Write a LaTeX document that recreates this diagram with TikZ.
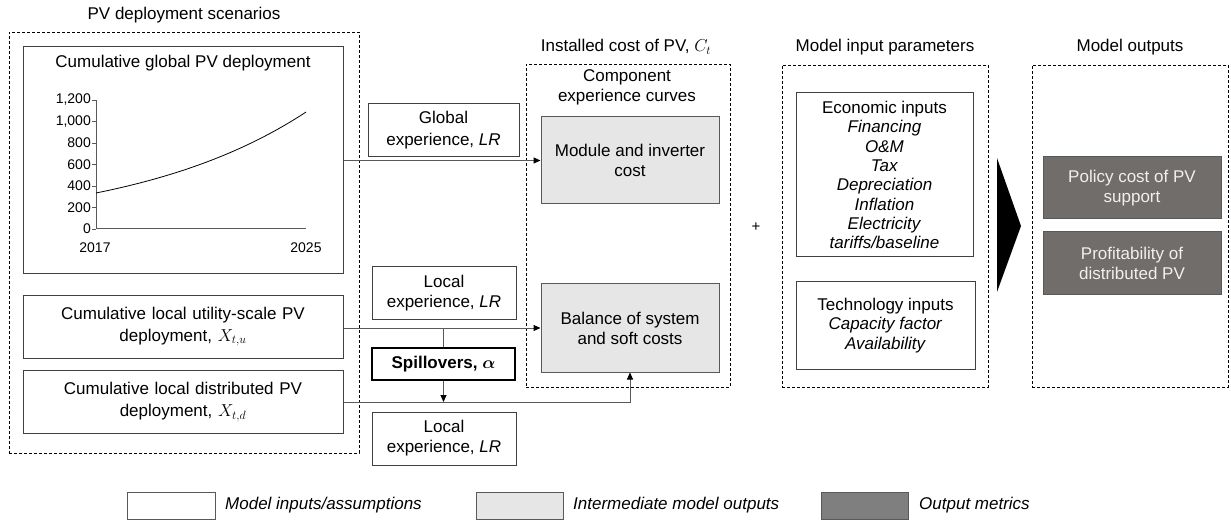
\documentclass[tikz,border=0pt]{standalone}
\usepackage{bm}
\usepackage{fontspec}
\setmainfont{Liberation Sans}
\usetikzlibrary{arrows.meta}
\definecolor{bd}{HTML}{404040}
\definecolor{lineg}{HTML}{595959}
\definecolor{lightg}{HTML}{E6E6E6}
\definecolor{darkg}{HTML}{716D6B}
\definecolor{legdark}{HTML}{7F7F7F}
\begin{document}
\begin{tikzpicture}[x=1pt,y=-1pt,
  font=\fontsize{17}{20}\selectfont,
  box/.style={draw=bd, line width=1pt, fill=white, inner sep=0pt, align=center},
  lbox/.style={box, fill=lightg, draw=lineg},
  dbox/.style={box, fill=darkg, draw=lineg, text=white!94!black},
  grp/.style={draw=black, dash pattern=on 3pt off 2pt, line width=0.8pt, inner sep=0pt},
  conn/.style={draw=lineg, line width=1pt, -{Triangle[length=7pt,width=6pt,color=black]}},
  plain/.style={draw=lineg, line width=1pt},
  tick/.style={font=\fontsize{14}{16}\selectfont, anchor=east, inner sep=0pt},
  ttl/.style={inner sep=0pt, align=center}]
\useasboundingbox (0,0) rectangle (1231,521);
% group boxes
\node[grp, minimum width=350, minimum height=421] (scen) at (184,242.5) {};
\node[ttl] (scenT) at (184,15) {PV deployment scenarios};
\node[grp, minimum width=204, minimum height=323] (inst) at (628,225.5) {};
\node[ttl] (instT) at (626,47) {Installed cost of PV, $C_t$};
\node[grp, minimum width=206, minimum height=322] (par) at (885,226) {};
\node[ttl] (parT) at (885,47) {Model input parameters};
\node[grp, minimum width=196, minimum height=322] (outb) at (1130,226) {};
\node[ttl] (outT) at (1130,47) {Model outputs};
% chart
\node[box, minimum width=320, minimum height=227] (chart) at (183,160.5) {};
\node[ttl] (chartT) at (183,63) {Cumulative global PV deployment};
\draw[lineg, line width=1pt] (96,100) -- (96,229) -- (306,229);
\foreach \yy in {100,121.5,143,164.5,186,207.5,229} \draw[lineg, line width=0.8pt] (92,\yy) -- (96,\yy);
\node[tick] (t0) at (91,229) {0};
\node[tick] (t2) at (91,207.5) {200};
\node[tick] (t4) at (91,186) {400};
\node[tick] (t6) at (91,164.5) {600};
\node[tick] (t8) at (91,143) {800};
\node[tick] (t10) at (91,121.5) {1,000};
\node[tick] (t12) at (91,100) {1,200};
\node[tick, anchor=center] (y17) at (95,248) {2017};
\node[tick, anchor=center] (y25) at (306,248) {2025};
\draw[black, line width=0.8pt] plot[domain=0:8, samples=50, smooth] ({96+26.25*\x},{229-36*exp(0.1473*\x)});
% left boxes
\node[box, minimum width=320, minimum height=63, text width=300] (util) at (183,326.5)
  {Cumulative local utility-scale PV\\[2pt] deployment, $X_{t,u}$};
\node[box, minimum width=320, minimum height=63, text width=300] (dist) at (183,402)
  {Cumulative local distributed PV\\[2pt] deployment, $X_{t,d}$};
% experience boxes
\node[box, minimum width=151, minimum height=53] (glob) at (443.5,130.5) {Global\\[2pt] experience, \textit{LR}};
\node[box, minimum width=144, minimum height=52] (loc1) at (444,293) {Local\\ experience, \textit{LR}};
\node[box, draw=black, line width=1.8pt, minimum width=143, minimum height=32, font=\fontsize{17}{20}\selectfont\bfseries] (spill) at (443.5,364) {Spillovers, $\bm{\alpha}$};
\node[box, minimum width=144, minimum height=53] (loc2) at (444,438.5) {Local\\ experience, \textit{LR}};
% installed cost
\node[ttl] (comp) at (627,87) {Component\\ experience curves};
\node[lbox, minimum width=178, minimum height=87] (mod) at (630,160.5) {Module and inverter\\ cost};
\node[lbox, minimum width=178, minimum height=88] (bos) at (630,328) {Balance of system\\ and soft costs};
\node[ttl, font=\fontsize{15}{17}\selectfont] (plus) at (756,227) {+};
% inputs
\node[box, minimum width=177, minimum height=164, font=\fontsize{17}{19.3}\selectfont] (econ) at (884.5,175)
  {Economic inputs\\ \textit{Financing}\\ \textit{O\&M}\\ \textit{Tax}\\ \textit{Depreciation}\\ \textit{Inflation}\\ \textit{Electricity}\\ \textit{tariffs/baseline}};
\node[box, minimum width=179, minimum height=87, font=\fontsize{17}{19.3}\selectfont] (tech) at (885.5,325.5)
  {Technology inputs\\ \textit{Capacity factor}\\ \textit{Availability}};
% big arrow
\fill[black] (997,158) -- (1021,226) -- (997,292) -- cycle;
% outputs
\node[dbox, minimum width=178, minimum height=62] (pol) at (1132,188) {Policy cost of PV\\ support};
\node[dbox, minimum width=178, minimum height=62] (prof) at (1132,263) {Profitability of\\ distributed PV};
% connectors
\draw[conn] (chart.east) -- (mod.west);
\coordinate (ju) at (util.east |- bos.west);
\draw[conn] (ju) -- (bos.west);
\draw[plain] (spill.north |- bos.west) -- (spill.north);
\draw[conn] (spill.south) -- (spill.south |- dist.east);
\draw[conn] (dist.east) -| (bos.south);
% legend
\node[box, draw=lineg, minimum width=88, minimum height=27] (lg1) at (171,505.5) {};
\node[anchor=west, inner sep=0pt] (lt1) at (225,505) {\textit{Model inputs/assumptions}};
\node[lbox, minimum width=87, minimum height=27] (lg2) at (519.5,505.5) {};
\node[anchor=west, inner sep=0pt] (lt2) at (573,505) {\textit{Intermediate model outputs}};
\node[box, fill=legdark, draw=lineg, minimum width=87, minimum height=27] (lg3) at (864.5,505.5) {};
\node[anchor=west, inner sep=0pt] (lt3) at (919,505) {\textit{Output metrics}};
\end{tikzpicture}
\end{document}
